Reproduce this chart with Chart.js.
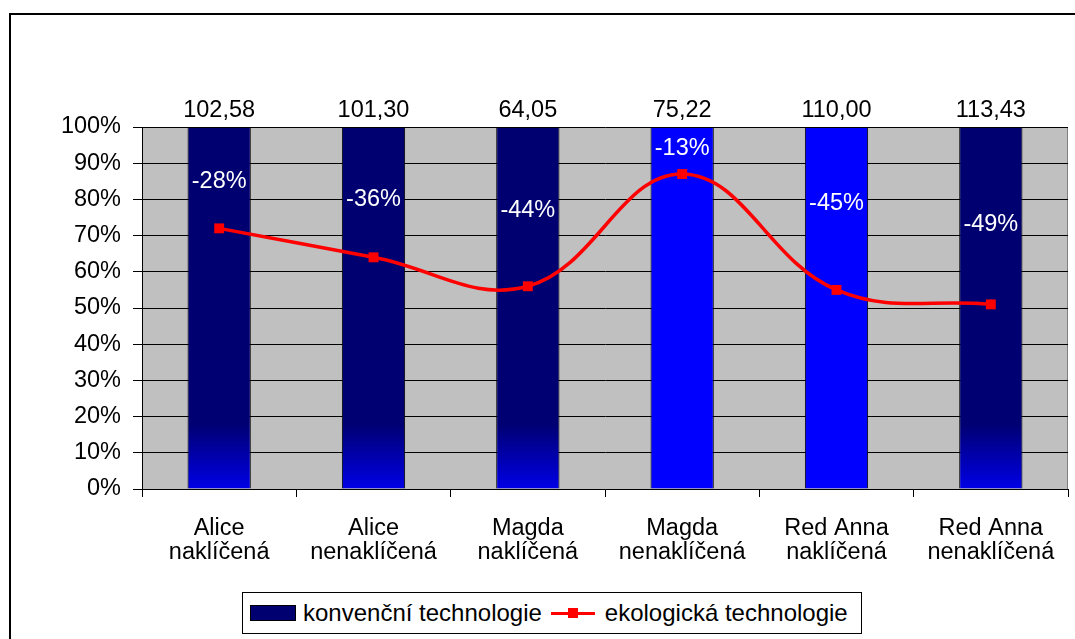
<!DOCTYPE html>
<html>
<head>
<meta charset="utf-8">
<script src="https://cdn.jsdelivr.net/npm/chart.js@4/dist/chart.umd.min.js"></script>
<style>
  body { margin: 0; width: 1075px; height: 639px; overflow: hidden; background: #fff; font-family: Arial, "Liberation Sans", sans-serif; }
  #frame { position: absolute; left: 9px; top: 13px; width: 1200px; height: 700px; border: 2px solid #000; }
  #wrap { position: absolute; left: 0; top: 0; width: 1075px; height: 639px; }
  #legend { position: absolute; left: 242px; top: 592px; width: 618px; height: 40px; border: 1px solid #000; background: #fff;
            display: flex; align-items: center; font-size: 24px; color: #000; white-space: nowrap; }
  .swatch { display: inline-block; width: 44px; height: 14px; border: 1px solid #000; margin: 0 7px 0 7px; }
  .lineSample { position: relative; display: inline-block; width: 44px; height: 3px; margin: 0 10px 0 9px; }
  .lineSample i { position: absolute; left: 17px; top: -4px; width: 10px; height: 10px; }
</style>
</head>
<body>
<div id="frame"></div>
<div id="wrap"><canvas id="chart" width="1075" height="639"></canvas></div>
<div id="legend"></div>
<script>
const categories = [
  ["Alice", "naklíčená"],
  ["Alice", "nenaklíčená"],
  ["Magda", "naklíčená"],
  ["Magda", "nenaklíčená"],
  ["Red Anna", "naklíčená"],
  ["Red Anna", "nenaklíčená"],
];
const konvencni = [100, 100, 100, 100, 100, 100];
const ekologicka = [72, 64, 56, 87, 55, 51];
const topValues = [102.58, 101.30, 64.05, 75.22, 110.00, 113.43];

// where the difference labels sit inside the bars (axis units)
const diffLabelLevel = [85, 80, 77, 94, 79, 73];
const brightBar = [false, false, false, true, true, false];

const FONT = "Arial, 'Liberation Sans', sans-serif";

function formatComma(value) {
  return value.toFixed(2).replace(".", ",");
}

function barColor(ctx) {
  if (brightBar[ctx.dataIndex]) return "#0000FF";
  const area = ctx.chart.chartArea;
  if (!area) return "#000070";
  const g = ctx.chart.ctx.createLinearGradient(0, area.top, 0, area.bottom);
  g.addColorStop(0, "#000070");
  g.addColorStop(0.82, "#000072");
  g.addColorStop(1, "#0000E6");
  return g;
}

const plotBackground = {
  id: "plotBackground",
  beforeDraw(chart) {
    const { ctx, chartArea: a } = chart;
    ctx.save();
    ctx.fillStyle = "#C0C0C0";
    ctx.fillRect(a.left, a.top, a.right - a.left, a.bottom - a.top);
    ctx.strokeStyle = "#808080";
    ctx.lineWidth = 1;
    ctx.beginPath();
    ctx.moveTo(a.right - 0.5, a.top);
    ctx.lineTo(a.right - 0.5, a.bottom);
    ctx.stroke();
    ctx.restore();
  },
};

const barLabels = {
  id: "barLabels",
  afterDatasetsDraw(chart) {
    const { ctx } = chart;
    const yScale = chart.scales.y;
    const bars = chart.getDatasetMeta(0).data;
    ctx.save();
    ctx.font = "23.5px " + FONT;
    ctx.textAlign = "center";
    ctx.textBaseline = "middle";
    bars.forEach((bar, i) => {
      ctx.fillStyle = "#000";
      ctx.fillText(formatComma(topValues[i]), bar.x, yScale.getPixelForValue(konvencni[i]) - 16);
      ctx.fillStyle = "#fff";
      ctx.fillText((ekologicka[i] - 100) + "%", bar.x, yScale.getPixelForValue(diffLabelLevel[i]));
    });
    ctx.restore();
  },
};

const chart = new Chart(document.getElementById("chart"), {
  type: "bar",
  data: {
    labels: categories,
    datasets: [
      {
        type: "bar",
        label: "konvenční technologie",
        data: konvencni,
        backgroundColor: barColor,
        borderColor: "#000",
        borderWidth: 1,
        barPercentage: 0.41,
        categoryPercentage: 1,
        order: 1,
      },
      {
        type: "line",
        label: "ekologická technologie",
        data: ekologicka,
        borderColor: "#FF0000",
        backgroundColor: "#FF0000",
        borderWidth: 3.5,
        tension: 0.4,
        pointStyle: "rect",
        pointRadius: 7,
        pointBorderWidth: 0,
        order: 0,
      },
    ],
  },
  options: {
    responsive: false,
    animation: false,
    layout: { padding: { top: 127, right: 3, left: 0, bottom: 0 } },
    plugins: { legend: { display: false }, tooltip: { enabled: false } },
    scales: {
      x: {
        grid: { offset: true, drawOnChartArea: false, drawTicks: true, tickLength: 8, color: "#000" },
        border: { display: true, color: "#000" },
        ticks: { color: "#000", padding: 20, maxRotation: 0, font: { family: FONT, size: 23.5, lineHeight: 1.02 } },
        afterFit(scale) { scale.height = 150; },
      },
      y: {
        min: 0,
        max: 100,
        ticks: { stepSize: 10, color: "#000", padding: 12, font: { family: FONT, size: 23.5 }, callback: (v) => v + "%" },
        grid: { color: "#000", lineWidth: 1, tickLength: 9 },
        border: { display: true, color: "#000" },
        afterFit(scale) { scale.width = 142; },
      },
    },
  },
  plugins: [plotBackground, barLabels],
});

// legend built from the chart datasets
const legendEl = document.getElementById("legend");
chart.data.datasets.forEach((ds) => {
  if (ds.type === "bar") {
    const sw = document.createElement("span");
    sw.className = "swatch";
    sw.style.background = "#000070";
    legendEl.appendChild(sw);
  } else {
    const ln = document.createElement("span");
    ln.className = "lineSample";
    ln.style.background = ds.borderColor;
    const mk = document.createElement("i");
    mk.style.background = ds.backgroundColor;
    ln.appendChild(mk);
    legendEl.appendChild(ln);
  }
  const txt = document.createElement("span");
  txt.textContent = ds.label;
  legendEl.appendChild(txt);
});
</script>
</body>
</html>
